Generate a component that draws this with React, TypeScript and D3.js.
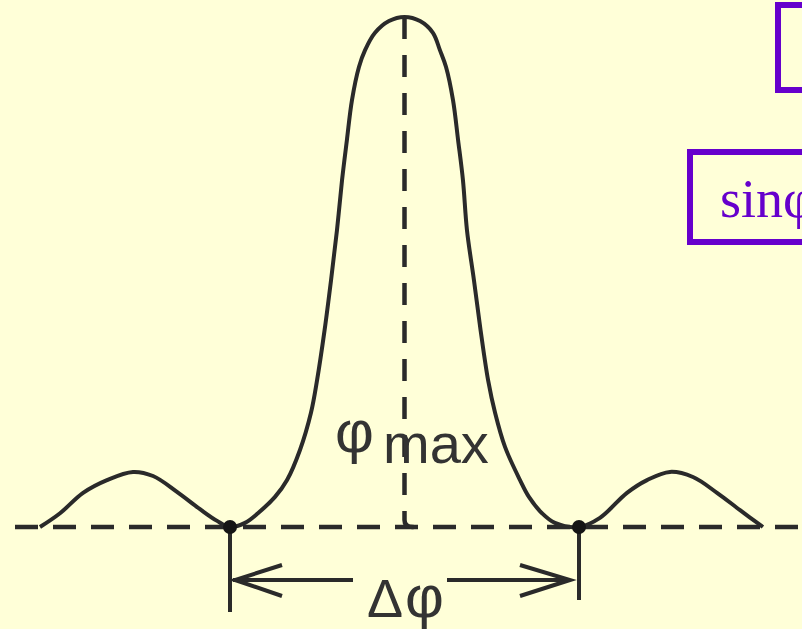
import React from "react";
import * as d3 from "d3";

// Diffraction intensity profile (phase in units of half-width, relative intensity)
const phase = [
  -2.089, -1.974, -1.842, -1.705, -1.556, -1.441, -1.304, -1.172, -1.074, -1.0,
  -0.914, -0.84, -0.742, -0.673, -0.599, -0.536, -0.501, -0.458, -0.421, -0.387,
  -0.358, -0.33, -0.301, -0.261, -0.226, -0.169, -0.089, 0.0,
  0.089, 0.163, 0.203, 0.238, 0.278, 0.307, 0.335, 0.358, 0.398, 0.436,
  0.479, 0.519, 0.576, 0.662, 0.713, 0.788, 0.862, 1.0,
  1.12, 1.275, 1.39, 1.521, 1.653, 1.791, 1.923, 2.054,
];
const intensity = [
  0, 0.027, 0.067, 0.092, 0.108, 0.1, 0.069, 0.035, 0.012, 0,
  0.008, 0.027, 0.059, 0.092, 0.151, 0.224, 0.288, 0.386, 0.484, 0.582,
  0.68, 0.759, 0.837, 0.902, 0.935, 0.969, 0.992, 1,
  0.992, 0.969, 0.935, 0.902, 0.837, 0.759, 0.68, 0.582, 0.484, 0.386,
  0.288, 0.224, 0.157, 0.092, 0.059, 0.027, 0.008, 0,
  0.018, 0.067, 0.092, 0.108, 0.098, 0.067, 0.033, 0,
];
const minima = [-1, 1];
const peakLabel = ["φ", "max"];
const widthLabel = ["Δ", "φ"];
const formulaLabel = "sinφ";

const W = 802;
const H = 629;
const ink = "#2a2a2a";
const purple = "#6600cc";

export default function App() {
  const x = d3.scaleLinear().domain([-1, 1]).range([230, 579]);
  const y = d3.scaleLinear().domain([0, 1]).range([527, 17]);
  const pts: [number, number][] = phase.map((p, i) => [p, intensity[i]]);
  const line = d3
    .line<[number, number]>()
    .x((d) => x(d[0]))
    .y((d) => y(d[1]))
    .curve(d3.curveCatmullRom.alpha(0.5));

  const x0 = x(0);
  const yb = y(0);
  const xl = x(minima[0]);
  const xr = x(minima[1]);
  const ya = 580;

  return (
    <svg
      width={W}
      height={H}
      style={{ position: "absolute", left: 0, top: 0, background: "#ffffd8" }}
    >
      <rect x={0} y={0} width={W} height={H} fill="#ffffd8" />
      {/* purple boxes */}
      <rect x={778} y={5} width={60} height={85} fill="none" stroke={purple} strokeWidth={6} />
      <rect x={690} y={152} width={150} height={90} fill="none" stroke={purple} strokeWidth={6} />
      <text
        x={720}
        y={217}
        fontFamily="'Liberation Serif', 'Times New Roman', serif"
        fontSize={54}
        fill={purple}
      >
        {formulaLabel}
      </text>

      {/* baseline */}
      <line
        x1={15}
        x2={W}
        y1={yb}
        y2={yb}
        stroke={ink}
        strokeWidth={4.5}
        strokeDasharray="23 15"
      />
      {/* vertical dashed at max */}
      <path
        d={`M${x0},${y(1)} V${yb - 7} Q${x0},${yb} ${x0 + 8},${yb} H${x0 + 16}`}
        fill="none"
        stroke={ink}
        strokeWidth={4.5}
        strokeDasharray="22 16"
      />
      {/* curve */}
      <path d={line(pts) ?? ""} fill="none" stroke={ink} strokeWidth={4} strokeLinejoin="round" />

      {/* minima dots and ticks */}
      <line x1={xl} x2={xl} y1={yb} y2={612} stroke={ink} strokeWidth={4} />
      <line x1={xr} x2={xr} y1={yb} y2={600} stroke={ink} strokeWidth={4} />
      <circle cx={xl} cy={yb} r={7} fill="#151515" />
      <circle cx={xr} cy={yb} r={7} fill="#151515" />

      {/* arrows */}
      <line x1={xl + 3} x2={353} y1={ya} y2={ya} stroke={ink} strokeWidth={4} />
      <polyline
        points={`${xl + 52},${ya - 15} ${xl + 5},${ya} ${xl + 52},${ya + 16}`}
        fill="none"
        stroke={ink}
        strokeWidth={4}
        strokeLinejoin="miter"
      />
      <line x1={447} x2={xr - 9} y1={ya} y2={ya} stroke={ink} strokeWidth={4} />
      <polyline
        points={`${xr - 59},${ya - 15} ${xr - 9},${ya} ${xr - 59},${ya + 16}`}
        fill="none"
        stroke={ink}
        strokeWidth={4}
        strokeLinejoin="miter"
      />

      {/* labels */}
      <g fontFamily="'Liberation Sans', Arial, Helvetica, sans-serif" fill="#333">
        <text x={335} y={452} fontSize={60}>
          {peakLabel[0]}
        </text>
        <text x={383} y={463} fontSize={56}>
          {peakLabel[1]}
        </text>
        <text x={367} y={617} fontSize={54}>
          {widthLabel[0]}
        </text>
        <text x={405} y={617} fontSize={60}>
          {widthLabel[1]}
        </text>
      </g>
    </svg>
  );
}
